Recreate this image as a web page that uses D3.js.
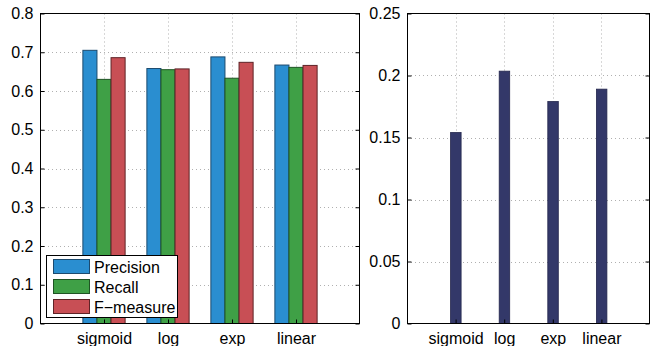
<!DOCTYPE html>
<html><head><meta charset="utf-8">
<script src="https://cdn.jsdelivr.net/npm/d3@7"></script>
<style>body{margin:0;background:#fff}svg{display:block}text{font-family:"Liberation Sans",Arial,sans-serif}</style>
</head><body>
<svg id="c" width="656" height="346"></svg>
<script>
const categories = ["sigmoid", "log", "exp", "linear"];
const seriesNames = ["Precision", "Recall", "F-measure"];
const precision = [0.705, 0.658, 0.688, 0.667];
const recall = [0.630, 0.655, 0.633, 0.661];
const fmeasure = [0.686, 0.657, 0.674, 0.666];
const rightValues = [0.154, 0.2035, 0.179, 0.189];
const leftTicks = [0, 0.1, 0.2, 0.3, 0.4, 0.5, 0.6, 0.7, 0.8];
const rightTicks = [0, 0.05, 0.1, 0.15, 0.2, 0.25];
const colors = ["#2a8ed0", "#3fa046", "#c84f55"];
const edges = ["#1c4a6e", "#1f5424", "#5e2427"];
const rightColor = "#333869";

const svg = d3.select("#c");
const series = [precision, recall, fmeasure];

function panel(x0, x1, yMax, ticks, fmt) {
  const x = d3.scaleLinear().domain([0, 5]).range([x0, x1]);
  const y = d3.scaleLinear().domain([0, yMax]).range([323.5, 13.5]);
  const g = svg.append("g");
  // grid
  g.selectAll(".hg").data(ticks.slice(1, -1)).join("line")
    .attr("x1", x0).attr("x2", x1).attr("y1", d => Math.round(y(d)) + 0.5).attr("y2", d => Math.round(y(d)) + 0.5)
    .attr("stroke", "#b0b0b0").attr("stroke-width", 1).attr("stroke-dasharray", "1,3");
  g.selectAll(".vg").data([1, 2, 3, 4]).join("line")
    .attr("x1", d => Math.round(x(d)) + 0.5).attr("x2", d => Math.round(x(d)) + 0.5).attr("y1", 13.5).attr("y2", 323.5)
    .attr("stroke", "#b0b0b0").attr("stroke-width", 1).attr("stroke-dasharray", "1,3");
  return {x, y, g};
}

function frame(p, x0, x1, ticks, fmt) {
  const {x, y, g} = p;
  const ya = d3.axisLeft(y).tickValues(ticks).tickFormat(fmt).tickSize(-4).tickPadding(7);
  const yg = g.append("g").attr("transform", `translate(${x0 + 0.5},0)`).call(ya);
  yg.select(".domain").remove();
  yg.selectAll("line").attr("stroke", "#000");
  yg.selectAll("text").attr("font-size", 16).attr("fill", "#000");
  const yr = d3.axisRight(y).tickValues(ticks).tickFormat("").tickSize(-4);
  const yrg = g.append("g").attr("transform", `translate(${x1 - 0.5},0)`).call(yr);
  yrg.select(".domain").remove();
  yrg.selectAll("line").attr("stroke", "#000");
  const xa = d3.axisBottom(x).tickValues([1, 2, 3, 4]).tickFormat((d, i) => categories[i]).tickSize(-4).tickPadding(9);
  const xg = g.append("g").attr("transform", `translate(0,323.5)`).call(xa);
  xg.select(".domain").remove();
  xg.selectAll("line").attr("stroke", "#000");
  xg.selectAll("text").attr("font-size", 16).attr("fill", "#000");
  g.append("rect").attr("x", x0 + 0.5).attr("y", 13.5).attr("width", x1 - x0 - 1).attr("height", 310)
    .attr("fill", "none").attr("stroke", "#000").attr("stroke-width", 1);
}

// Left panel
const L = panel(40, 360, 0.8, leftTicks);
const bw = 0.22;
series.forEach((vals, s) => {
  L.g.selectAll(".b" + s).data(vals).join("rect")
    .attr("x", (d, i) => L.x(i + 1 + (s - 1) * bw - bw / 2))
    .attr("width", L.x(bw) - L.x(0))
    .attr("y", d => L.y(d))
    .attr("height", d => L.y(0) - L.y(d))
    .attr("fill", colors[s]).attr("stroke", edges[s]).attr("stroke-width", 1);
});
frame(L, 40, 360, leftTicks, d3.format(""));

// Legend
const lg = svg.append("g");
lg.append("rect").attr("x", 46.5).attr("y", 255.5).attr("width", 131).attr("height", 62)
  .attr("fill", "#fff").attr("stroke", "#000");
seriesNames.forEach((n, i) => {
  lg.append("rect").attr("x", 53.5).attr("y", 259.5 + i * 20).attr("width", 36).attr("height", 14)
    .attr("fill", colors[i]).attr("stroke", edges[i]);
  lg.append("text").attr("x", 94).attr("y", 272.5 + i * 20).attr("font-size", 16).text(n.replace("-", "\u2212"));
});

// Right panel
const R = panel(407, 650, 0.25, rightTicks);
R.g.selectAll(".rb").data(rightValues).join("rect")
  .attr("x", (d, i) => R.x(i + 1) - 5)
  .attr("width", 10.5)
  .attr("y", d => R.y(d))
  .attr("height", d => R.y(0) - R.y(d))
  .attr("fill", rightColor).attr("stroke", "#23264d").attr("stroke-width", 0.8);
frame(R, 407, 650, rightTicks, d => d === 0 ? "0" : String(+d.toFixed(2)));
</script>
</body></html>
